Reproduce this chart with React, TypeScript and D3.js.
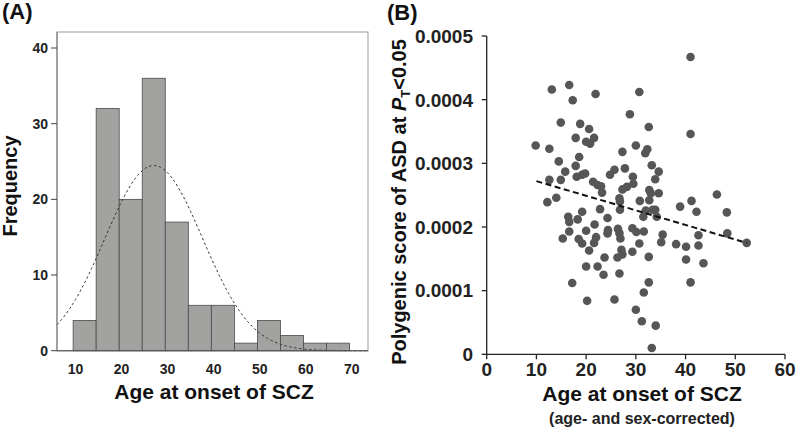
import React from "react";
import * as d3 from "d3";

// ---------- Panel A data ----------
const histBinStarts = [9.5, 14.5, 19.5, 24.5, 29.5, 34.5, 39.5, 44.5, 49.5, 54.5, 59.5, 64.5];
const histBinWidth = 5;
const histCounts = [4, 32, 20, 36, 17, 6, 6, 1, 4, 2, 1, 1];
const histXTicks = [10, 20, 30, 40, 50, 60, 70];
const histYTicks = [0, 10, 20, 30, 40];
const curveMean = 27;
const curveSd = 10.6;

// ---------- Panel B data ----------
const onsetAge = [
  9.85, 12.6, 13.1, 16.6, 17.3, 21.9, 30.7, 41.0, 14.9, 18.8, 28.8, 32.6, 41.0, 17.9, 20.6, 20.0, 20.8, 21.6,
  14.5, 12.6, 15.8, 14.9, 18.6, 17.9, 18.1, 19.2, 19.8, 12.2, 14.0, 21.4, 22.3, 23.0, 23.2, 22.8, 24.8, 25.7,
  27.3, 27.8, 30.0, 31.9, 32.3, 33.2, 34.6, 33.9, 29.4, 29.5, 28.2, 27.3, 26.7, 26.8, 26.8, 30.8, 32.7, 33.0,
  34.6, 32.7, 32.0, 31.5, 33.4, 33.9, 34.2, 16.4, 16.6, 18.3, 19.2, 16.6, 15.3, 18.5, 19.2, 20.0, 21.7, 22.0,
  21.6, 20.6, 24.3, 24.4, 24.3, 23.7, 20.0, 22.3, 23.5, 17.2, 20.2, 25.7, 26.7, 26.4, 26.7, 26.9, 27.1, 27.3,
  26.3, 29.3, 29.3, 30.1, 31.6, 30.7, 32.6, 32.6, 31.6, 30.0, 31.2, 34.0, 33.2, 35.4, 35.1, 38.1, 38.9, 40.1,
  40.1, 41.2, 42.2, 42.6, 42.6, 43.6, 41.0, 46.3, 48.3, 48.4, 52.3
];
const polygenicScore = [
  3.28, 3.23, 4.16, 4.23, 3.99, 4.09, 4.12, 4.67, 3.64, 3.62, 3.77, 3.57, 3.46, 3.40, 3.54, 3.34, 3.31, 3.40,
  3.03, 2.74, 2.87, 2.74, 3.10, 2.96, 2.79, 2.82, 2.84, 2.39, 2.46, 2.71, 2.66, 2.64, 2.54, 2.28, 2.82, 2.90,
  3.18, 2.92, 3.28, 3.16, 3.22, 2.97, 2.87, 2.75, 2.79, 2.68, 2.63, 2.59, 2.45, 2.40, 2.27, 2.41, 2.58, 2.53,
  2.53, 2.42, 2.26, 2.16, 2.27, 2.27, 2.16, 2.16, 2.08, 2.12, 2.24, 1.93, 1.82, 1.81, 1.74, 1.94, 2.04, 1.84,
  1.75, 1.63, 2.14, 1.95, 1.90, 1.52, 1.38, 1.38, 1.25, 1.12, 0.84, 0.86, 1.27, 1.97, 1.90, 1.82, 1.64, 1.57,
  1.52, 1.61, 1.98, 1.92, 1.93, 1.74, 1.53, 1.13, 0.97, 0.70, 0.52, 0.45, 0.10, 1.88, 1.76, 1.73, 2.32, 1.69,
  1.49, 2.41, 2.24, 1.87, 1.71, 1.43, 1.13, 2.51, 2.23, 1.90, 1.75
].map((v) => v * 0.0001);
const fitLineX = [10, 52.3];
const fitLineY = [0.000272, 0.000175];
const scatterXTicks = [0, 10, 20, 30, 40, 50, 60];
const scatterYTicks = [0, 0.0001, 0.0002, 0.0003, 0.0004, 0.0005];

const FONT = "'Liberation Sans', Arial, Helvetica, sans-serif";

function PanelA() {
  const left = 57, right = 368, top = 32, bottom = 351;
  const x = d3.scaleLinear().domain([6.0, 73.5]).range([left, right]);
  const y = d3.scaleLinear().domain([0, 40]).range([350.7, 48]);
  const n = d3.sum(histCounts);
  const curvePts = d3.range(6.0, 73.51, 0.25).map((v) => [
    v,
    (n * histBinWidth) / (curveSd * Math.sqrt(2 * Math.PI)) * Math.exp(-0.5 * ((v - curveMean) / curveSd) ** 2),
  ]);
  const line = d3.line<number[]>().x((d) => x(d[0])).y((d) => y(d[1])).curve(d3.curveLinear);
  return (
    <g>
      <rect x={left} y={top} width={right - left} height={bottom - top} fill="#fff" stroke="#9a9a9a" strokeWidth={1} />
      {histCounts.map((c, i) => (
        <rect
          key={i}
          x={x(histBinStarts[i])}
          y={y(c)}
          width={x(histBinStarts[i] + histBinWidth) - x(histBinStarts[i])}
          height={y(0) - y(c)}
          fill="#a2a3a0"
          stroke="#4a4a4a"
          strokeWidth={0.8}
        />
      ))}
      <path d={line(curvePts) || ""} fill="none" stroke="#333" strokeWidth={1} strokeDasharray="2.5,2.5" />
      <line x1={left} x2={right} y1={y(0)} y2={y(0)} stroke="#555" strokeWidth={1} />
      <line x1={left} x2={left} y1={top} y2={bottom} stroke="#777" strokeWidth={1} />
      {histYTicks.map((t) => (
        <g key={t}>
          <line x1={left - 6} x2={left} y1={y(t)} y2={y(t)} stroke="#444" strokeWidth={1} />
          <text x={left - 9} y={y(t)} dy="0.35em" textAnchor="end" fontSize={14} fontWeight="bold" fill="#222" fontFamily={FONT}>
            {t}
          </text>
        </g>
      ))}
      {histXTicks.map((t) => (
        <text key={t} x={x(t)} y={374} textAnchor="middle" fontSize={14} fontWeight="bold" fill="#222" fontFamily={FONT}>
          {t}
        </text>
      ))}
      <text x={214} y={399} textAnchor="middle" fontSize={21} fontWeight="bold" fill="#111" fontFamily={FONT}>
        Age at onset of SCZ
      </text>
      <text transform="translate(17,186) rotate(-90)" textAnchor="middle" fontSize={20} fontWeight="bold" fill="#111" fontFamily={FONT}>
        Frequency
      </text>
      <text x={2} y={19} fontSize={22} fontWeight="bold" fill="#111" fontFamily={FONT}>
        (A)
      </text>
    </g>
  );
}

function PanelB() {
  const x = d3.scaleLinear().domain([0, 60]).range([486.7, 785]);
  const y = d3.scaleLinear().domain([0, 0.0005]).range([354.3, 36]);
  return (
    <g>
      <line x1={x(0)} x2={x(60)} y1={y(0)} y2={y(0)} stroke="#222" strokeWidth={1.3} />
      <line x1={x(0)} x2={x(0)} y1={y(0)} y2={y(0.0005)} stroke="#222" strokeWidth={1.3} />
      {scatterYTicks.map((t) => (
        <g key={t}>
          <line x1={x(0) - 5} x2={x(0)} y1={y(t)} y2={y(t)} stroke="#222" strokeWidth={1.3} />
          <text x={473} y={y(t)} dy="0.36em" textAnchor="end" fontSize={19} fontWeight="bold" fill="#222" fontFamily={FONT}>
            {t === 0 ? "0" : t.toFixed(4)}
          </text>
        </g>
      ))}
      {scatterXTicks.map((t) => (
        <g key={t}>
          <line x1={x(t)} x2={x(t)} y1={y(0)} y2={y(0) + 5} stroke="#222" strokeWidth={1.3} />
          <text x={x(t)} y={376} textAnchor="middle" fontSize={19} fontWeight="bold" fill="#222" fontFamily={FONT}>
            {t}
          </text>
        </g>
      ))}
      {onsetAge.map((a, i) => (
        <circle key={i} cx={x(a)} cy={y(polygenicScore[i])} r={4.3} fill="#565656" />
      ))}
      <line
        x1={x(fitLineX[0])}
        y1={y(fitLineY[0])}
        x2={x(fitLineX[1])}
        y2={y(fitLineY[1])}
        stroke="#111"
        strokeWidth={2}
        strokeDasharray="6,3.5"
      />
      <text x={642} y={401} textAnchor="middle" fontSize={21} fontWeight="bold" fill="#111" fontFamily={FONT}>
        Age at onset of SCZ
      </text>
      <text x={642} y={424} textAnchor="middle" fontSize={16} fontWeight="bold" fill="#222" fontFamily={FONT}>
        (age- and sex-corrected)
      </text>
      <text transform="translate(406,202) rotate(-90)" textAnchor="middle" fontSize={20} fontWeight="bold" fill="#111" fontFamily={FONT}>
        Polygenic score of ASD at{" "}
        <tspan fontStyle="italic">P</tspan>
        <tspan fontSize={13} dy={4}>T</tspan>
        <tspan dy={-4}>&lt;0.05</tspan>
      </text>
      <text x={387} y={20} fontSize={22} fontWeight="bold" fill="#111" fontFamily={FONT}>
        (B)
      </text>
    </g>
  );
}

export default function App() {
  return (
    <svg
      width={799}
      height={434}
      viewBox="0 0 799 434"
      style={{ position: "absolute", left: 0, top: 0, background: "#fff" }}
    >
      <rect width={799} height={434} fill="#fff" />
      <PanelA />
      <PanelB />
    </svg>
  );
}
